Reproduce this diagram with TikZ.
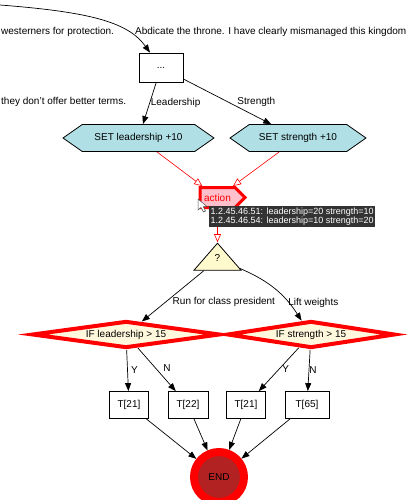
\documentclass[tikz,border=0pt]{standalone}
\usepackage{fontspec}
\setmainfont{Liberation Sans}
\usetikzlibrary{shapes.geometric,shapes.symbols,arrows.meta}
\definecolor{powder}{HTML}{B0E0E6}
\definecolor{silk}{HTML}{FFF8DC}
\definecolor{lemon}{HTML}{FFFACD}
\definecolor{brick}{HTML}{B22222}
\definecolor{pinkfill}{HTML}{FFC0CB}
\definecolor{tipbg}{HTML}{333333}
\begin{document}
\begin{tikzpicture}[x=1pt,y=-1pt,
  every node/.style={font=\fontsize{10}{12}\selectfont},
  txt/.style={inner sep=0pt},
  lbl/.style={inner sep=0pt},
  box/.style={draw, line width=0.8pt, minimum width=#1, minimum height=27pt, inner sep=0pt},
  hexa/.style={signal, signal to=east and west, signal pointer angle=70, draw, line width=0.8pt, fill=powder, minimum height=27pt, inner sep=0pt},
  act/.style={signal, signal to=east, signal pointer angle=90, draw=red, line width=3pt, fill=pinkfill, text=red, minimum width=45pt, minimum height=20pt, inner sep=0pt},
  tri/.style={isosceles triangle, isosceles triangle stretches, shape border rotate=90, minimum width=47pt, minimum height=27pt, draw, line width=0.8pt, fill=lemon, inner sep=0pt},
  dia/.style={diamond, aspect=6, draw=red, line width=4pt, fill=silk, minimum height=27pt, inner sep=0pt},
  endnode/.style={circle, draw=red, line width=8pt, fill=brick, minimum size=50pt, inner sep=0pt},
  arr/.style={-{Triangle[length=8pt,width=6pt]}, line width=0.7pt},
  rarr/.style={draw=red, -{Triangle[open,length=8pt,width=7pt]}, line width=0.6pt},
  tipbox/.style={fill=tipbg, text=white, font=\fontsize{9}{9.6}\selectfont, align=left, inner sep=1.5pt}
]
\useasboundingbox (0,0) rectangle (407,500);

% nodes
\coordinate (start) at (0,5);
\node[box=44pt, minimum height=29pt] (dots) at (161,67.5) {...};
\node[txt, anchor=west] (l1) at (1,32) {westerners for protection.};
\node[txt, anchor=west] (l2) at (135,32) {Abdicate the throne. I have clearly mismanaged this kingdom};
\node[txt, anchor=west] (l3) at (1,102) {they don't offer better terms.};
\node[hexa, minimum width=151pt] (hl) at (138.5,138) {SET leadership +10};
\node[hexa, minimum width=136pt] (hr) at (298,138) {SET strength +10};
\node[act] (act) at (217.5,197.5) {action};
\node[tri] (q) at (217.5,259.5) {};
\node[txt] (qmark) at ([yshift=-16pt]q.apex) {?};
\node[dia, minimum width=188pt] (dl) at (126,334.5) {IF leadership > 15};
\node[dia, minimum width=168pt] (dr) at (311,334.5) {IF strength > 15};
\node[box=39pt] (t1) at (129,405) {T[21]};
\node[box=40pt] (t2) at (188,405) {T[22]};
\node[box=39pt] (t3) at (246,405) {T[21]};
\node[box=44pt] (t4) at (307,405) {T[65]};
\node[endnode] (end) at (219,477) {END};

% connectors
\draw[arr] (start) .. controls (90,12) and (128,22) .. ([xshift=-11pt]dots.north);
\draw[arr] (dots) -- node[lbl, xshift=26pt] {Leadership} (hl);
\draw[arr] (dots) -- node[lbl, xshift=29pt] {Strength} (hr);
\draw[rarr] (hl) -- (act);
\draw[rarr] (hr) -- (act);
\draw[rarr] (act) -- (q);
\draw[arr] (q) -- node[lbl, xshift=51pt, yshift=-6pt] {Run for class president} (dl);
\draw[arr] (q) to[bend left=17] node[lbl, xshift=38pt, yshift=-14pt] {Lift weights} (dr);
\draw[arr] (dl) -- node[lbl, xshift=7pt] {Y} (t1);
\draw[arr] (dl) -- node[lbl, xshift=10pt, yshift=2pt] {N} (t2);
\draw[arr] (dr) -- node[lbl, xshift=7pt] {Y} (t3);
\draw[arr] (dr) -- node[lbl, xshift=4pt] {N} (t4);
\draw[arr] (t1) -- (end);
\draw[arr] (t2) -- (end);
\draw[arr] (t3) -- (end);
\draw[arr] (t4) -- (end);

% tooltip and cursor
\node[tipbox, anchor=north west] (tip) at (209,206) {1.2.45.46.51: leadership=20 strength=10\\1.2.45.46.54: leadership=10 strength=20};
\draw[fill=white, draw=black!70, line width=0.5pt] (198,199) -- (198,210) -- (201,207.5) -- (203.5,212) -- (205.5,211) -- (203.2,206.5) -- (207,206.5) -- cycle;
\end{tikzpicture}
\end{document}
